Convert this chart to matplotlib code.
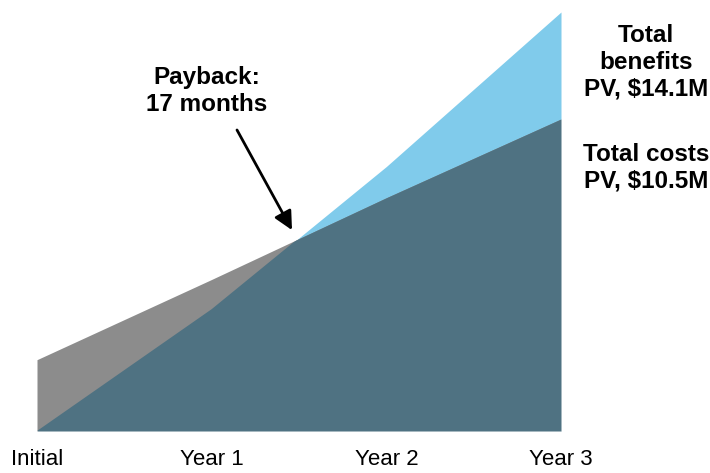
import numpy as np
import matplotlib.pyplot as plt

plt.rcParams['font.family'] = ['Liberation Sans', 'DejaVu Sans']

# cumulative present value, $M
periods = ['Initial', 'Year 1', 'Year 2', 'Year 3']
costs = [2.4, 5.1, 7.85, 10.5]
benefits = [0.0, 4.1, 8.9, 14.1]
payback_months = 17

GRAY = '#8c8c8c'
BLUE = '#80cbeb'
TEAL = '#4f7282'

x = np.arange(len(periods))

fig = plt.figure(figsize=(7.1, 4.73), dpi=100)
ax = fig.add_axes([37 / 710, 42 / 473, (561 - 37) / 710, (431 - 12) / 473])

ben = ax.fill_between(x, 0, benefits, color=BLUE, lw=0)
ax.fill_between(x, 0, costs, color=GRAY, lw=0)
# overlap of the two areas
overlap = ax.fill_between(x, 0, costs, color=TEAL, lw=0)
overlap.set_clip_path(ben.get_paths()[0], ax.transData)

ax.set_xlim(0, 3)
ax.set_ylim(0, max(benefits))
for s in ax.spines.values():
    s.set_visible(False)
ax.set_yticks([])
ax.set_xticks(x, periods, fontsize=16)
ax.tick_params(axis='x', length=0, pad=13)

bold = dict(fontsize=17.5, fontweight='bold', ha='center', va='center',
            linespacing=1.22, clip_on=False)
ax.text(3.487, 12.4, f'Total\nbenefits\nPV, ${benefits[-1]}M', **bold)
ax.text(3.487, 8.85, f'Total costs\nPV, ${costs[-1]}M', **bold)
ax.text(0.973, 11.45, f'Payback:\n{payback_months} months', **bold)

ax.annotate('', xy=(1.46, 6.76), xytext=(1.145, 10.13),
            arrowprops=dict(arrowstyle='-|>', color='black', lw=2,
                            mutation_scale=28, shrinkA=0, shrinkB=0))

fig.savefig('out.png', dpi=100)
